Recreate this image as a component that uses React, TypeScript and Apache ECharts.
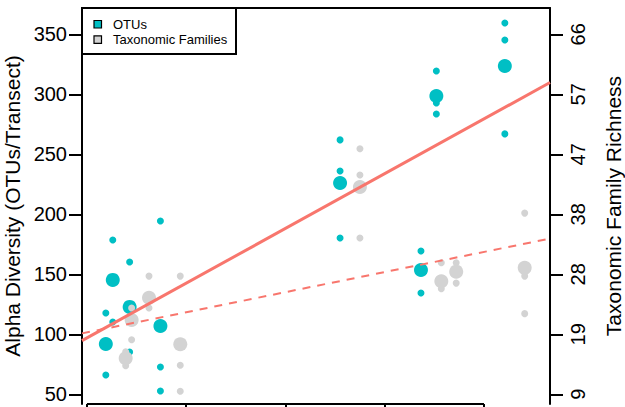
import { useEffect, useRef } from 'react';
import * as echarts from 'echarts';

// Colours
const TEAL = '#00BFC4';
const GREY = '#D3D3D3';
const FIT = '#F8766D';
const FONT = '"Liberation Sans", Arial, Helvetica, sans-serif';

// Horizontal positions of each transect (OTUs dodged left, families right)
const otuX = [1.9, 2.6, 4.3, 7.4, 25.5, 33.65, 35.2, 42.1];
const familyX = [3.9, 4.5, 6.25, 9.4, 27.5, 35.7, 37.2, 44.1];

// OTU richness per transect: mean and the individual replicates
const otuMeans = [91.9, 145.3, 122.8, 106.9, 226.1, 153.6, 298.6, 323.6];
const otuReplicates = [
  [117.8, 66.1],
  [178.6, 110.3],
  [160.3, 85.3],
  [194.4, 72.8, 52.8],
  [262.0, 236.1, 180.3],
  [169.4, 134.4],
  [319.4, 292.8, 283.6],
  [359.4, 345.3, 267.0],
];

// Taxonomic family richness per transect: mean and replicates
const familyMeans = [15.1, 21.1, 24.6, 17.3, 42.0, 27.2, 28.7, 29.3];
const familyReplicates = [
  [16.1, 13.9],
  [23.0, 18.0],
  [28.0, 23.0],
  [28.0, 14.0, 9.9],
  [48.0, 43.9, 34.0],
  [30.1, 26.0],
  [30.1, 26.9],
  [37.9, 28.0, 22.1],
];

// Linear fits, evaluated at the edges of the plotting region
const fitX = [-0.5, 46.65];
const otuFit = [94.7, 309.8];
const familyFit = [19.0, 33.9];

// Axes
const xTicks = [0, 10, 20, 30, 40];
const otuRange = [41.9, 371.9];
const otuTicks = [50, 100, 150, 200, 250, 300, 350];
const familyTickLabels = ['9', '19', '28', '38', '47', '57', '66'];
const FAMILY_PER_OTU = 66 / 350;

const pairs = (xs: number[], ys: number[]) => xs.map((x, i) => [x, ys[i]]);
const groups = (xs: number[], gs: number[][]) =>
  gs.flatMap((g, i) => g.map((v) => [xs[i], v]));

export default function App() {
  const ref = useRef<HTMLDivElement>(null);

  useEffect(() => {
    const chart = echarts.init(ref.current!, null, { renderer: 'svg' });
    const familyRange = otuRange.map((v) => v * FAMILY_PER_OTU);
    const familyTicks = otuTicks.map((v) => v * FAMILY_PER_OTU);
    const axisColor = '#000';

    chart.setOption({
      animation: false,
      grid: { left: 82, right: 75, top: 8, bottom: 3, containLabel: false, outerBoundsMode: 'none' },
      xAxis: [
        {
          type: 'value', min: fitX[0], max: fitX[1], position: 'bottom',
          axisLine: { show: false, onZero: false },
          axisTick: { show: true, customValues: xTicks, length: 8, lineStyle: { color: axisColor, width: 2 } },
          axisLabel: { show: false },
          splitLine: { show: false },
        },
        {
          type: 'value', min: fitX[0], max: fitX[1], position: 'top',
          axisLine: { show: true, onZero: false, lineStyle: { color: axisColor, width: 2 } },
          axisTick: { show: false },
          axisLabel: { show: false },
          splitLine: { show: false },
        },
      ],
      yAxis: [
        {
          type: 'value', min: otuRange[0], max: otuRange[1], position: 'left',
          axisLine: { show: true, onZero: false, lineStyle: { color: axisColor, width: 2 } },
          axisTick: { show: true, customValues: otuTicks, length: 13, lineStyle: { color: axisColor, width: 2 } },
          axisLabel: { customValues: otuTicks, margin: 15, fontSize: 20, color: axisColor, fontFamily: FONT },
          splitLine: { show: false },
          name: 'Alpha Diversity (OTUs/Transect)',
          nameLocation: 'middle', nameRotate: 90, nameGap: 49,
          nameTextStyle: { fontSize: 21, color: axisColor, fontFamily: FONT },
        },
        {
          type: 'value', min: familyRange[0], max: familyRange[1], position: 'right',
          axisLine: { show: true, onZero: false, lineStyle: { color: axisColor, width: 2 } },
          axisTick: { show: true, customValues: familyTicks, length: 13, lineStyle: { color: axisColor, width: 2 } },
          axisLabel: {
            customValues: familyTicks, margin: 18, rotate: 90, fontSize: 20, color: axisColor, fontFamily: FONT,
            formatter: (v: number) => {
              let best = 0;
              familyTicks.forEach((t, i) => { if (Math.abs(t - v) < Math.abs(familyTicks[best] - v)) best = i; });
              return familyTickLabels[best];
            },
          },
          splitLine: { show: false },
          name: 'Taxonomic Family Richness',
          nameLocation: 'middle', nameRotate: 90, nameGap: 53,
          nameTextStyle: { fontSize: 21, color: axisColor, fontFamily: FONT },
        },
      ],
      series: [
        {
          type: 'line', data: pairs(fitX, otuFit), symbol: 'none', silent: true,
          lineStyle: { color: FIT, width: 3 },
        },
        {
          type: 'line', yAxisIndex: 1, data: pairs(fitX, familyFit), symbol: 'none', silent: true,
          lineStyle: { color: FIT, width: 2, type: [8, 7] },
        },
        {
          type: 'scatter', data: groups(otuX, otuReplicates), symbolSize: 7,
          itemStyle: { color: TEAL, opacity: 1 },
        },
        {
          type: 'scatter', data: pairs(otuX, otuMeans), symbolSize: 14,
          itemStyle: { color: TEAL, opacity: 1 },
        },
        {
          type: 'scatter', yAxisIndex: 1, data: groups(familyX, familyReplicates), symbolSize: 7,
          itemStyle: { color: GREY, opacity: 1 },
        },
        {
          type: 'scatter', yAxisIndex: 1, data: pairs(familyX, familyMeans), symbolSize: 14,
          itemStyle: { color: GREY, opacity: 1 },
        },
      ],
      graphic: [
        {
          id: 'legend', type: 'group', z: 100,
          children: [
            { type: 'rect', shape: { x: 82, y: 8, width: 154, height: 46 }, style: { fill: '#fff', stroke: '#000', lineWidth: 2 } },
            { type: 'rect', shape: { x: 94, y: 20.5, width: 7.5, height: 7.5 }, style: { fill: TEAL, stroke: '#000', lineWidth: 1.2 } },
            { type: 'rect', shape: { x: 94, y: 35.8, width: 7.5, height: 7.5 }, style: { fill: GREY, stroke: '#000', lineWidth: 1.2 } },
            { type: 'text', x: 113, y: 24.2, style: { text: 'OTUs', font: `13px ${FONT}`, fill: '#000', verticalAlign: 'middle' } },
            { type: 'text', x: 113, y: 39.5, style: { text: 'Taxonomic Families', font: `13px ${FONT}`, fill: '#000', verticalAlign: 'middle' } },
          ],
        },
      ],
    });

    // bottom axis line, spanning only the first to last tick
    const [ax0, ay] = chart.convertToPixel({ xAxisIndex: 0, yAxisIndex: 0 }, [xTicks[0], otuRange[0]]);
    const [ax1] = chart.convertToPixel({ xAxisIndex: 0, yAxisIndex: 0 }, [xTicks[xTicks.length - 1], otuRange[0]]);
    chart.setOption({
      graphic: [
        { id: 'xAxisLine', type: 'line', z: 100, shape: { x1: ax0, y1: ay, x2: ax1, y2: ay }, style: { stroke: '#000', lineWidth: 2 } },
      ],
    });

    return () => chart.dispose();
  }, []);

  return (
    <div
      ref={ref}
      style={{ position: 'fixed', left: 0, top: 0, width: 625, height: 407, background: '#fff' }}
    />
  );
}
